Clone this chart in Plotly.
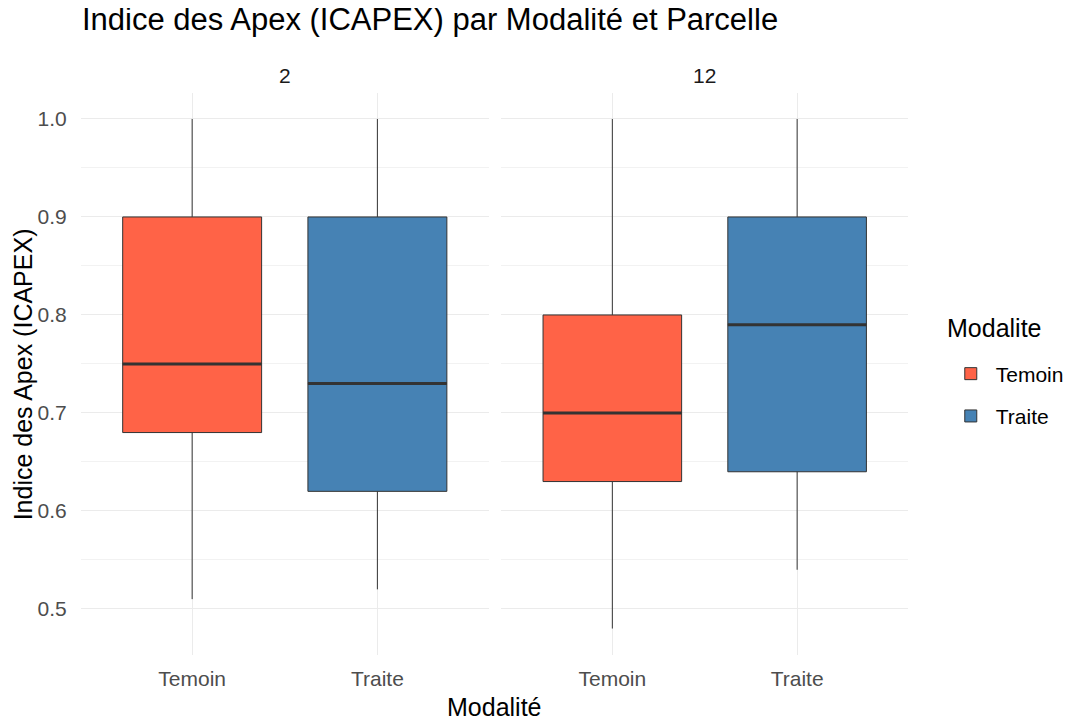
import plotly.graph_objects as go
from plotly.subplots import make_subplots

# ---- data ----
parcelles = ["2", "12"]
modalites = ["Temoin", "Traite"]
colors = ["#FF6347", "#4682B4"]

p2_min = [0.51, 0.52]
p2_q1 = [0.68, 0.62]
p2_med = [0.75, 0.73]
p2_q3 = [0.90, 0.90]
p2_max = [1.00, 1.00]

p12_min = [0.48, 0.54]
p12_q1 = [0.63, 0.64]
p12_med = [0.70, 0.79]
p12_q3 = [0.80, 0.90]
p12_max = [1.00, 1.00]

y_ticks = [0.5, 0.6, 0.7, 0.8, 0.9, 1.0]
y_minor = [0.55, 0.65, 0.75, 0.85, 0.95]

stats = {
    "2": (p2_min, p2_q1, p2_med, p2_q3, p2_max),
    "12": (p12_min, p12_q1, p12_med, p12_q3, p12_max),
}

FONT = "Arial, Liberation Sans, sans-serif"
OFF = 8  # page body margin
W, H = 1081 - OFF, 722 - OFF
L, T = 81 - OFF, 93 - OFF
R = W - (913 - OFF)
B = H - (655 - OFF)
pw = W - L - R
ph = H - T - B


def px(xs):  # screen x -> paper x
    return (xs - OFF - L) / pw


def py(ys):  # screen y -> paper y
    return (H - B - (ys - OFF)) / ph


fig = make_subplots(rows=1, cols=2)

for col, parc in enumerate(parcelles, start=1):
    mn, q1, med, q3, mx = stats[parc]
    for i, mod in enumerate(modalites):
        fig.add_trace(go.Box(
            x=[mod], q1=[q1[i]], median=[med[i]], q3=[q3[i]],
            lowerfence=[mn[i]], upperfence=[mx[i]],
            name=mod, legendgroup=mod, showlegend=(col == 1),
            fillcolor=colors[i], line=dict(color="#333333", width=1),
            width=0.75, whiskerwidth=0, boxpoints=False, hoverinfo="skip",
        ), row=1, col=col)
    for i, mod in enumerate(modalites):
        fig.add_trace(go.Box(
            x=[mod], q1=[med[i]], median=[med[i]], q3=[med[i]],
            lowerfence=[med[i]], upperfence=[med[i]],
            name=mod, showlegend=False,
            fillcolor="rgba(0,0,0,0)", line=dict(color="#333333", width=3),
            width=0.75, whiskerwidth=0, boxpoints=False, hoverinfo="skip",
        ), row=1, col=col)

grid = "#EBEBEB"
d1 = px(491)
d2 = px(504)
xcommon = dict(
    type="category", categoryorder="array", categoryarray=modalites,
    range=[-0.6, 1.6], showgrid=True, gridcolor=grid, gridwidth=1,
    zeroline=False, showline=False, ticks="outside", ticklen=5,
    tickcolor="rgba(0,0,0,0)",
    tickfont=dict(family=FONT, size=21, color="#4D4D4D"),
)
ycommon = dict(
    range=[0.453, 1.0265], tickvals=y_ticks, tickformat=".1f",
    showgrid=True, gridcolor=grid, gridwidth=1.07, zeroline=False,
    showline=False, ticks="outside", ticklen=9, tickcolor="rgba(0,0,0,0)",
    minor=dict(tickvals=y_minor, showgrid=True, gridcolor="#F2F2F2", gridwidth=0.6),
)
fig.update_layout(
    xaxis=dict(domain=[0, d1], **xcommon),
    xaxis2=dict(domain=[d2, 1], **xcommon),
    yaxis=dict(tickfont=dict(family=FONT, size=21, color="#4D4D4D"), **ycommon),
    yaxis2=dict(matches="y", showticklabels=False, **ycommon),
)

annotations = [
    dict(text=parcelles[0], x=d1 / 2, y=py(75), xref="paper", yref="paper",
         showarrow=False, xanchor="center", yanchor="middle",
         font=dict(family=FONT, size=21, color="#1A1A1A")),
    dict(text=parcelles[1], x=(d2 + 1) / 2, y=py(75), xref="paper", yref="paper",
         showarrow=False, xanchor="center", yanchor="middle",
         font=dict(family=FONT, size=21, color="#1A1A1A")),
    dict(text="Modalité", x=0.5, y=py(707), xref="paper", yref="paper",
         showarrow=False, xanchor="center", yanchor="middle",
         font=dict(family=FONT, size=25, color="#000000")),
    dict(text="Indice des Apex (ICAPEX)", x=px(23), y=py(374), xref="paper", yref="paper",
         showarrow=False, xanchor="center", yanchor="middle", textangle=-90,
         font=dict(family=FONT, size=25, color="#000000")),
    dict(text="Modalite", x=px(950), y=py(328), xref="paper", yref="paper",
         showarrow=False, xanchor="left", yanchor="middle",
         font=dict(family=FONT, size=25, color="#000000")),
]

fig.update_layout(
    width=W, height=H,
    margin=dict(l=L, r=R, t=T, b=B),
    paper_bgcolor="white", plot_bgcolor="white",
    boxmode="overlay",
    title=dict(text="Indice des Apex (ICAPEX) par Modalité et Parcelle",
               x=(82 - OFF) / W, xanchor="left", y=1, yanchor="top",
               pad=dict(t=0, b=0, l=0, r=0),
               font=dict(family=FONT, size=31, color="#000000")),
    annotations=annotations,
    legend=dict(
        font=dict(family=FONT, size=21, color="#000000"),
        x=px(951), xanchor="left",
        y=py(395), yanchor="middle",
        tracegroupgap=12, itemwidth=40,
    ),
)

fig.write_html("out.html")
